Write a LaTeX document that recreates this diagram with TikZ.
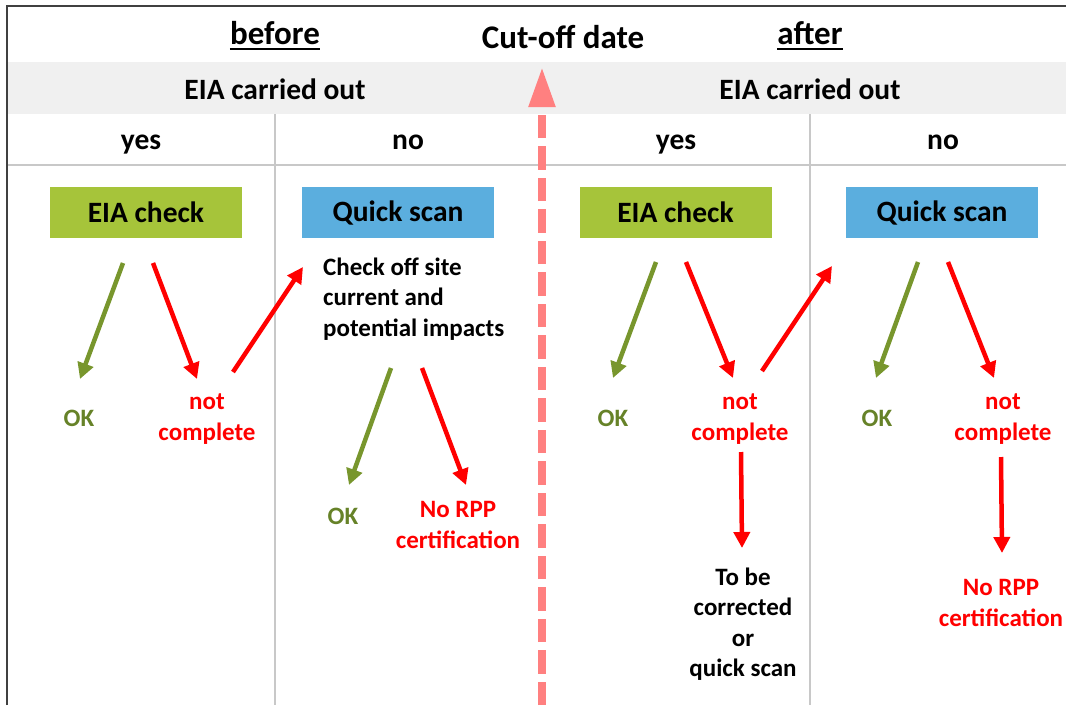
\documentclass[tikz,border=0pt]{standalone}
\usepackage{fontspec}
\setmainfont{Carlito}
\usetikzlibrary{arrows.meta}
\definecolor{boxgreen}{RGB}{166,196,58}
\definecolor{boxblue}{RGB}{91,174,222}
\definecolor{okgreen}{RGB}{120,150,45}
\definecolor{oktext}{RGB}{102,130,40}
\definecolor{cutpink}{RGB}{255,128,128}
\definecolor{bandgray}{RGB}{240,240,240}
\definecolor{rulegray}{RGB}{200,200,200}
\definecolor{framegray}{RGB}{64,64,64}
\tikzset{
  headtext/.style={font=\fontsize{33}{36}\selectfont\bfseries, inner sep=0pt, anchor=base},
  coltext/.style={font=\fontsize{29.5}{32}\selectfont\bfseries, inner sep=0pt, anchor=base},
  stepbox/.style={font=\fontsize{29.5}{32}\selectfont\bfseries, minimum width=192pt, minimum height=51pt, inner sep=0pt},
  body/.style={font=\fontsize{25}{30.5}\selectfont\bfseries, align=center, inner sep=0pt},
  okarrow/.style={-{Triangle[length=16pt,width=16pt]}, line width=4.5pt, okgreen},
  badarrow/.style={-{Triangle[length=16pt,width=16pt]}, line width=4.5pt, red}
}

\begin{document}
\begin{tikzpicture}[x=1pt,y=-1pt]
  \useasboundingbox (0,0) rectangle (1066,705);

  % Table
  \fill[bandgray] (8,62) rectangle (1066,114);
  \draw[rulegray, line width=2.5pt] (8,165) -- (1066,165);
  \draw[rulegray, line width=2.5pt] (275,114) -- (275,705);
  \draw[rulegray, line width=2.5pt] (810,114) -- (810,705);
  \draw[framegray, line width=2.5pt] (7,705) -- (7,6) -- (1066,6);

  % Header
  \node[headtext] (before) at (275,44) {before};
  \node[headtext] (cutoff) at (563,48) {Cut-off date};
  \node[headtext] (after) at (810,44) {after};
  \draw[line width=2pt] ([yshift=-5pt]before.base west) -- ([yshift=-5pt]before.base east);
  \draw[line width=2pt] ([yshift=-5pt]after.base west) -- ([yshift=-5pt]after.base east);

  \node[coltext] (eiaL) at (275,99) {EIA carried out};
  \node[coltext] (eiaR) at (810,99) {EIA carried out};
  \node[coltext] (yesL) at (141,149) {yes};
  \node[coltext] (noL) at (408,149) {no};
  \node[coltext] (yesR) at (676,149) {yes};
  \node[coltext] (noR) at (943,149) {no};

  % Cut-off line
  \coordinate (cutfoot) at (542,705);
  \coordinate (cuttip) at (542,67);
  \draw[cutpink, line width=8pt, dash pattern=on 23.5pt off 8pt,
        -{Triangle[length=40pt,width=25pt]}] (cutfoot) -- (cuttip);

  % Boxes
  \node[stepbox, fill=boxgreen] (checkL) at (146,212.5) {EIA check};
  \node[stepbox, fill=boxblue] (scanL) at (398,212.5) {Quick scan};
  \node[stepbox, fill=boxgreen] (checkR) at (675.5,212.5) {EIA check};
  \node[stepbox, fill=boxblue] (scanR) at (942,212.5) {Quick scan};

  % Outcomes, before
  \node[body, oktext] (okA) at (79,418) {OK};
  \node[body, red] (ncA) at (207,419) {not\\complete};
  \node[body, align=left, anchor=west] (offsite) at (323,299) {Check off site\\current and\\potential impacts};
  \node[body, oktext] (okB) at (343,516) {OK};
  \node[body, red] (rppA) at (458,525) {No RPP\\certification};

  % Outcomes, after
  \node[body, oktext] (okC) at (613,418) {OK};
  \node[body, red] (ncC) at (740,419) {not\\complete};
  \node[body] (tobe) at (743,624) {To be\\corrected\\or\\quick scan};
  \node[body, oktext] (okD) at (877,418) {OK};
  \node[body, red] (ncD) at (1003,419) {not\\complete};
  \node[body, red] (rppD) at (1001,603) {No RPP\\certification};

  % Arrows, before
  \coordinate (okA-from) at (123,263);  \coordinate (okA-to) at (80,379);
  \coordinate (ncA-from) at (153,263);  \coordinate (ncA-to) at (197,379);
  \coordinate (scanL-from) at (233,372); \coordinate (scanL-to) at (303,267);
  \coordinate (okB-from) at (391,368);  \coordinate (okB-to) at (349,485);
  \coordinate (rppA-from) at (422,368); \coordinate (rppA-to) at (466,485);
  \draw[okarrow] (okA-from) -- (okA-to);
  \draw[badarrow] (ncA-from) -- (ncA-to);
  \draw[badarrow] (scanL-from) -- (scanL-to);
  \draw[okarrow] (okB-from) -- (okB-to);
  \draw[badarrow] (rppA-from) -- (rppA-to);

  % Arrows, after
  \coordinate (okC-from) at (656,262);  \coordinate (okC-to) at (613,378);
  \coordinate (ncC-from) at (686,262);  \coordinate (ncC-to) at (733,378);
  \coordinate (scanR-from) at (762,371); \coordinate (scanR-to) at (832,266);
  \coordinate (tobe-from) at (741,452); \coordinate (tobe-to) at (742,548);
  \coordinate (okD-from) at (918,262);  \coordinate (okD-to) at (876,378);
  \coordinate (ncD-from) at (948,262);  \coordinate (ncD-to) at (994,378);
  \coordinate (rppD-from) at (1001,457); \coordinate (rppD-to) at (1002,553);
  \draw[okarrow] (okC-from) -- (okC-to);
  \draw[badarrow] (ncC-from) -- (ncC-to);
  \draw[badarrow] (scanR-from) -- (scanR-to);
  \draw[badarrow] (tobe-from) -- (tobe-to);
  \draw[okarrow] (okD-from) -- (okD-to);
  \draw[badarrow] (ncD-from) -- (ncD-to);
  \draw[badarrow] (rppD-from) -- (rppD-to);
\end{tikzpicture}
\end{document}
